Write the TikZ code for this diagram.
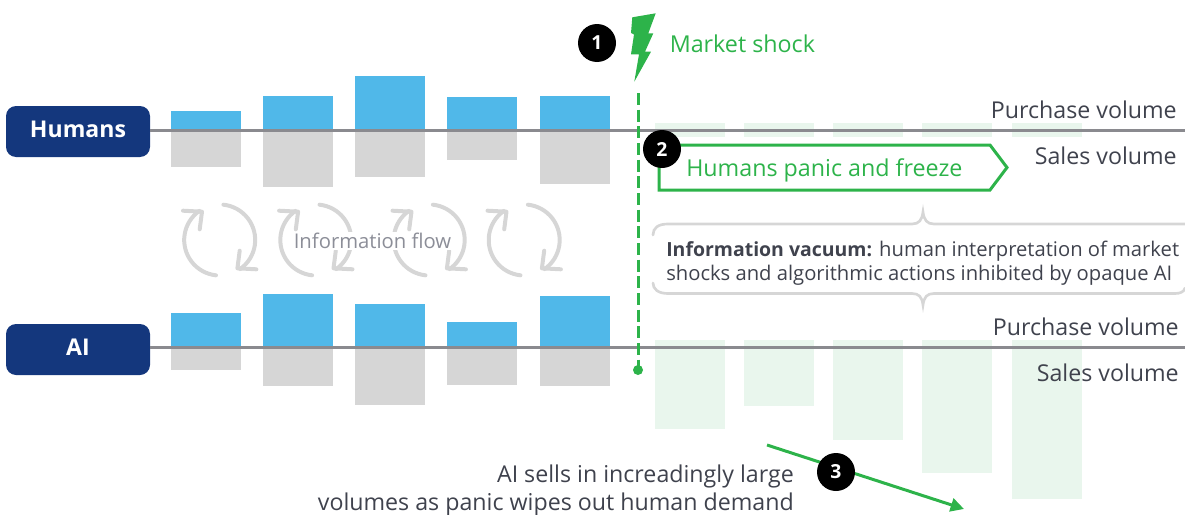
\documentclass[tikz,border=0pt]{standalone}
\usepackage{fontspec}
\setmainfont{Open Sans}
\usetikzlibrary{arrows.meta}
\definecolor{gr}{HTML}{2DB34A}
\definecolor{pale}{HTML}{E9F6ED}
\definecolor{sky}{HTML}{50B8E9}
\definecolor{barg}{HTML}{D6D6D6}
\definecolor{navy}{HTML}{14377D}
\definecolor{axisg}{HTML}{8A8A8F}
\definecolor{ink}{HTML}{3F424D}
\definecolor{flowt}{HTML}{8C8E98}
\newcommand{\fs}[1]{\fontsize{#1}{#1}\selectfont}
\tikzset{
  x=0.75pt,y=-0.75pt,
  agent/.style={draw=none,fill=navy,rounded corners=7.5pt,minimum width=108pt,minimum height=38.25pt,inner sep=0pt,text=white,font=\fs{17.3}\bfseries},
  badge/.style={circle,fill=black,minimum size=28.5pt,inner sep=0pt,text=white,font=\fs{14.5}\bfseries},
  axisline/.style={draw=axisg,line width=2.25pt},
  lab/.style={inner sep=0pt,text=ink,font=\fs{17.4}},
  greenlab/.style={inner sep=0pt,text=gr,font=\fs{17.45}},
  vac/.style={inner sep=0pt,text=ink,font=\fs{15.15},anchor=base west},
  cyc/.style={draw=barg,line width=3pt,line cap=round,line join=round},
  brk/.style={draw=barg,line width=2pt,line cap=round},
}
\begin{document}
\begin{tikzpicture}
\useasboundingbox (0,0) rectangle (1185,514);
% pale green bars
\foreach \l/\r/\b in {655/725/429,744/814/406,833/903/440,922/992/473,1012/1082/499}{
  \fill[pale] (\l,340) rectangle (\r,\b);
  \fill[pale] (\l,123) rectangle (\r,137);
}
% Human bars
\foreach \l/\t/\b in {171/111/167,263/96/187,355/76/177,447/97/160,540/96/184}{
  \pgfmathsetmacro{\r}{\l+70}
  \fill[sky] (\l,\t) rectangle (\r,130);
  \fill[barg] (\l,130) rectangle (\r,\b);
}
% AI bars
\foreach \l/\t/\b in {171/313/370,263/294/386,355/304/405,447/322/385,540/296/386}{
  \pgfmathsetmacro{\r}{\l+70}
  \fill[sky] (\l,\t) rectangle (\r,347);
  \fill[barg] (\l,347) rectangle (\r,\b);
}
% agents and axes
\node[agent] (humans) at (78,131.5) {\raisebox{3.5pt}{Humans}};
\node[agent] (ai) at (78,349.5) {\raisebox{3pt}{AI}};
\coordinate (hend) at (1185,130);
\coordinate (aend) at (1185,347);
\draw[axisline] (humans.east |- hend) -- (hend);
\draw[axisline] (ai.east |- aend) -- (aend);
% cycle arrows
\foreach \c in {219.7,315.8,429.2,524.2}{
  \draw[cyc] plot[smooth,domain=-96:-235,samples=25] ({\c+35.5*cos(\x)},{240-35.5*sin(\x)});
  \draw[cyc] ({\c-36.7},{240-29.3}) -- ({\c-17.7},{240-28.3}) -- ({\c-20},{240-10.7});
  \draw[cyc] plot[smooth,domain=84:-55,samples=25] ({\c+35.5*cos(\x)},{240-35.5*sin(\x)});
  \draw[cyc] ({\c+36.7},{240+29.3}) -- ({\c+17.7},{240+28.3}) -- ({\c+20},{240+10.7});
}
\node[fill=white,inner sep=1pt,text=flowt,font=\fs{15.2}] (flow) at (372.5,241) {Information flow};
% shock
\coordinate (shocktop) at (638,93);
\coordinate (shockend) at (638,370);
\fill[gr] (632.3,17.3) -- (655.7,13.3) -- (648.3,33.3) -- (653.3,33.3) -- (645,51.7) -- (651,51.7) -- (634.3,81.7) -- (639,54.3) -- (631,54.3) -- (634,34.5) -- (631,33) -- cycle;
\draw[gr,line width=2.25pt,dash pattern=on 9pt off 3.5pt] (shocktop) -- (shockend);
\fill[gr] (shockend) circle (3.75pt);
\node[greenlab,anchor=base west] (shock) at (669.5,52) {Market shock};
% panic
\draw[gr,line width=2.25pt,line join=miter] (659,145) -- (990,145) -- (1007,167.5) -- (990,190) -- (659,190) -- cycle;
\node[greenlab,anchor=base west] (panic) at (686,176) {Humans panic and freeze};
% labels
\node[lab,anchor=base east] (pv1) at (1177,118) {Purchase volume};
\node[lab,anchor=base east] (sv1) at (1177,164) {Sales volume};
\node[lab,anchor=base east] (pv2) at (1179,335) {Purchase volume};
\node[lab,anchor=base east] (sv2) at (1179,381) {Sales volume};
% brackets
\draw[brk] (653,235) .. controls (653,228) and (658,224) .. (668,224) -- (912,224) .. controls (919,224) and (922,220) .. (923,212) .. controls (924,220) and (927,224) .. (934,224) -- (1185,224);
\draw[brk] (653,283) .. controls (653,289) and (658,293.5) .. (668,293.5) -- (912,293.5) .. controls (919,293.5) and (922,297) .. (923,305) .. controls (924,297) and (927,293.5) .. (934,293.5) -- (1175,293.5) .. controls (1180,293.5) and (1184,292) .. (1185,288);
\node[vac] (vac1) at (666,256) {{\fs{14.6}\bfseries Information vacuum:} human interpretation of market};
\node[vac] (vac2) at (666,280) {shocks and algorithmic actions inhibited by opaque AI};
% arrow 3
\coordinate (a3s) at (767,445);
\coordinate (a3e) at (964,509);
\draw[gr,line width=2.25pt,-{Triangle[length=10pt,width=10pt]}] (a3s) -- (a3e);
\node[lab,anchor=base east] (s1) at (794,482) {AI sells in increadingly large};
\node[lab,anchor=base east] (s2) at (794,510) {volumes as panic wipes out human demand};
% badges
\node[badge] (b1) at (597,43) {1};
\node[badge] (b2) at (662,149) {2};
\node[badge] (b3) at (836,472) {3};
\end{tikzpicture}
\end{document}
